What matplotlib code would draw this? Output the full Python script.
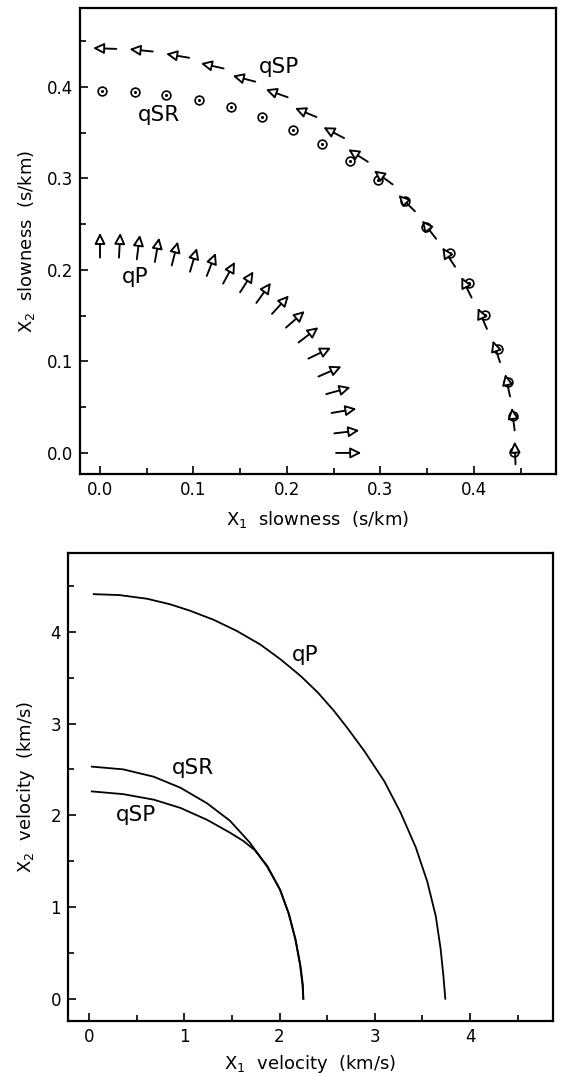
import numpy as np
import matplotlib
matplotlib.use("Agg")
import matplotlib.pyplot as plt

plt.rcParams['font.family'] = ['DejaVu Sans']
plt.rcParams['mathtext.fontset'] = 'dejavusans'

# ---- top panel: slowness surfaces with polarisation marks ----
# qP arrows: centre point on the slowness curve and direction (degrees)
qp_x = [0.000, 0.021, 0.041, 0.061, 0.080, 0.100, 0.119, 0.138, 0.157, 0.175,
        0.193, 0.209, 0.223, 0.235, 0.246, 0.255, 0.261, 0.264, 0.266]
qp_y = [0.227, 0.227, 0.225, 0.222, 0.218, 0.211, 0.206, 0.197, 0.187, 0.175,
        0.162, 0.146, 0.129, 0.109, 0.089, 0.068, 0.046, 0.023, 0.000]
qp_ang = [90, 87, 83, 80, 76, 74, 69, 62, 58, 55, 48, 42, 38, 26, 24, 16, 10, 7, 0]

# qSP arrows
qsp_x = [0.005, 0.044, 0.083, 0.120, 0.154, 0.189, 0.220, 0.250, 0.276, 0.303,
         0.328, 0.352, 0.373, 0.392, 0.409, 0.424, 0.436, 0.442, 0.444]
qsp_y = [0.442, 0.440, 0.434, 0.423, 0.409, 0.393, 0.372, 0.350, 0.325, 0.301,
         0.273, 0.244, 0.214, 0.181, 0.147, 0.111, 0.074, 0.037, 0.000]
qsp_ang = [178, 174, 170, 167, 165, 160, 157, 152, 147, 143, 135, 127, 123, 116,
           113, 108, 102, 97, 92]

# qSR circles (polarisation out of plane)
qsr_x = [0.002, 0.037, 0.071, 0.106, 0.140, 0.173, 0.206, 0.237, 0.267, 0.297,
         0.326, 0.349, 0.374, 0.395, 0.412, 0.426, 0.436, 0.442, 0.443]
qsr_y = [0.396, 0.395, 0.391, 0.386, 0.378, 0.367, 0.353, 0.338, 0.319, 0.298,
         0.275, 0.247, 0.218, 0.186, 0.151, 0.114, 0.078, 0.040, 0.001]

# ---- bottom panel: group velocity curves ----
vp_x = [0.05, 0.32, 0.61, 0.85, 1.06, 1.31, 1.55, 1.80, 2.01, 2.22, 2.40, 2.57,
        2.72, 2.89, 3.10, 3.27, 3.43, 3.55, 3.64, 3.69, 3.72, 3.74]
vp_y = [4.41, 4.40, 4.36, 4.30, 4.23, 4.13, 4.01, 3.86, 3.70, 3.52, 3.34, 3.14,
        2.94, 2.70, 2.37, 2.03, 1.65, 1.28, 0.90, 0.55, 0.25, 0.00]

vsr_x = [0.03, 0.36, 0.68, 0.96, 1.24, 1.48, 1.69, 1.87, 2.01, 2.10, 2.17, 2.22,
         2.245, 2.25]
vsr_y = [2.53, 2.50, 2.42, 2.30, 2.13, 1.94, 1.70, 1.44, 1.18, 0.92, 0.64, 0.36,
         0.15, 0.00]

vsp_x = [0.03, 0.36, 0.68, 0.96, 1.24, 1.48, 1.62, 1.74, 1.87, 2.00, 2.095, 2.165,
         2.215, 2.24, 2.25]
vsp_y = [2.26, 2.23, 2.17, 2.08, 1.95, 1.81, 1.72, 1.62, 1.45, 1.20, 0.93, 0.65,
         0.37, 0.16, 0.00]

fig = plt.figure(figsize=(5.61, 10.76), dpi=100)
ax1 = fig.add_axes([0.1426, 0.5595, 0.8484, 0.4331])
ax2 = fig.add_axes([0.1212, 0.0511, 0.8645, 0.4349])


def style_axes(ax):
    for sp in ax.spines.values():
        sp.set_linewidth(1.6)
    ax.tick_params(which='both', direction='in', top=False, right=False,
                   labelsize=12, width=1.2)
    ax.tick_params(which='major', length=6, pad=5)
    ax.tick_params(which='minor', length=4)


def draw_arrows(ax, xs, ys, angs, length):
    for x, y, a in zip(xs, ys, angs):
        c, s = np.cos(np.radians(a)), np.sin(np.radians(a))
        tail = (x - 0.5 * length * c, y - 0.5 * length * s)
        tip = (x + 0.5 * length * c, y + 0.5 * length * s)
        ax.annotate('', xy=tip, xytext=tail,
                    arrowprops=dict(arrowstyle='-|>,head_length=0.65,head_width=0.32',
                                    fc='white', ec='black', lw=1.35,
                                    shrinkA=0, shrinkB=0, mutation_scale=10))


# top panel
draw_arrows(ax1, qp_x, qp_y, qp_ang, 0.027)
draw_arrows(ax1, qsp_x, qsp_y, qsp_ang, 0.025)
ax1.plot(qsr_x, qsr_y, 'o', mfc='none', mec='black', ms=6.3, mew=1.2)
ax1.plot(qsr_x, qsr_y, 'o', color='black', ms=1.2)

ax1.text(0.191, 0.422, 'qSP', fontsize=15.5, ha='center', va='center')
ax1.text(0.063, 0.369, 'qSR', fontsize=15.5, ha='center', va='center')
ax1.text(0.038, 0.192, 'qP', fontsize=15.5, ha='center', va='center')

ax1.set_xlim(-0.0214, 0.4877)
ax1.set_ylim(-0.023, 0.4863)
ax1.set_xticks([0.0, 0.1, 0.2, 0.3, 0.4])
ax1.set_yticks([0.0, 0.1, 0.2, 0.3, 0.4])
ax1.set_xticks(np.arange(0.05, 0.48, 0.1), minor=True)
ax1.set_yticks(np.arange(0.05, 0.48, 0.1), minor=True)
ax1.xaxis.set_major_formatter(matplotlib.ticker.FormatStrFormatter('%.1f'))
ax1.yaxis.set_major_formatter(matplotlib.ticker.FormatStrFormatter('%.1f'))
style_axes(ax1)
ax1.set_xlabel(r'X$_1$  slowness  (s/km)', fontsize=13, labelpad=7)
ax1.set_ylabel(r'X$_2$  slowness  (s/km)', fontsize=13, labelpad=7)

# bottom panel
ax2.plot(vp_x, vp_y, color='black', lw=1.3)
ax2.plot(vsr_x, vsr_y, color='black', lw=1.3)
ax2.plot(vsp_x, vsp_y, color='black', lw=1.3)
ax2.text(2.27, 3.745, 'qP', fontsize=15.5, ha='center', va='center')
ax2.text(1.09, 2.51, 'qSR', fontsize=15.5, ha='center', va='center')
ax2.text(0.49, 2.00, 'qSP', fontsize=15.5, ha='center', va='center')

ax2.set_xlim(-0.22, 4.87)
ax2.set_ylim(-0.243, 4.858)
ax2.set_xticks([0, 1, 2, 3, 4])
ax2.set_yticks([0, 1, 2, 3, 4])
ax2.set_xticks(np.arange(0.5, 4.9, 1.0), minor=True)
ax2.set_yticks(np.arange(0.5, 4.9, 1.0), minor=True)
style_axes(ax2)
ax2.set_xlabel(r'X$_1$  velocity  (km/s)', fontsize=13, labelpad=5)
ax2.set_ylabel(r'X$_2$  velocity  (km/s)', fontsize=13, labelpad=10)

fig.savefig('out.png', dpi=100)
